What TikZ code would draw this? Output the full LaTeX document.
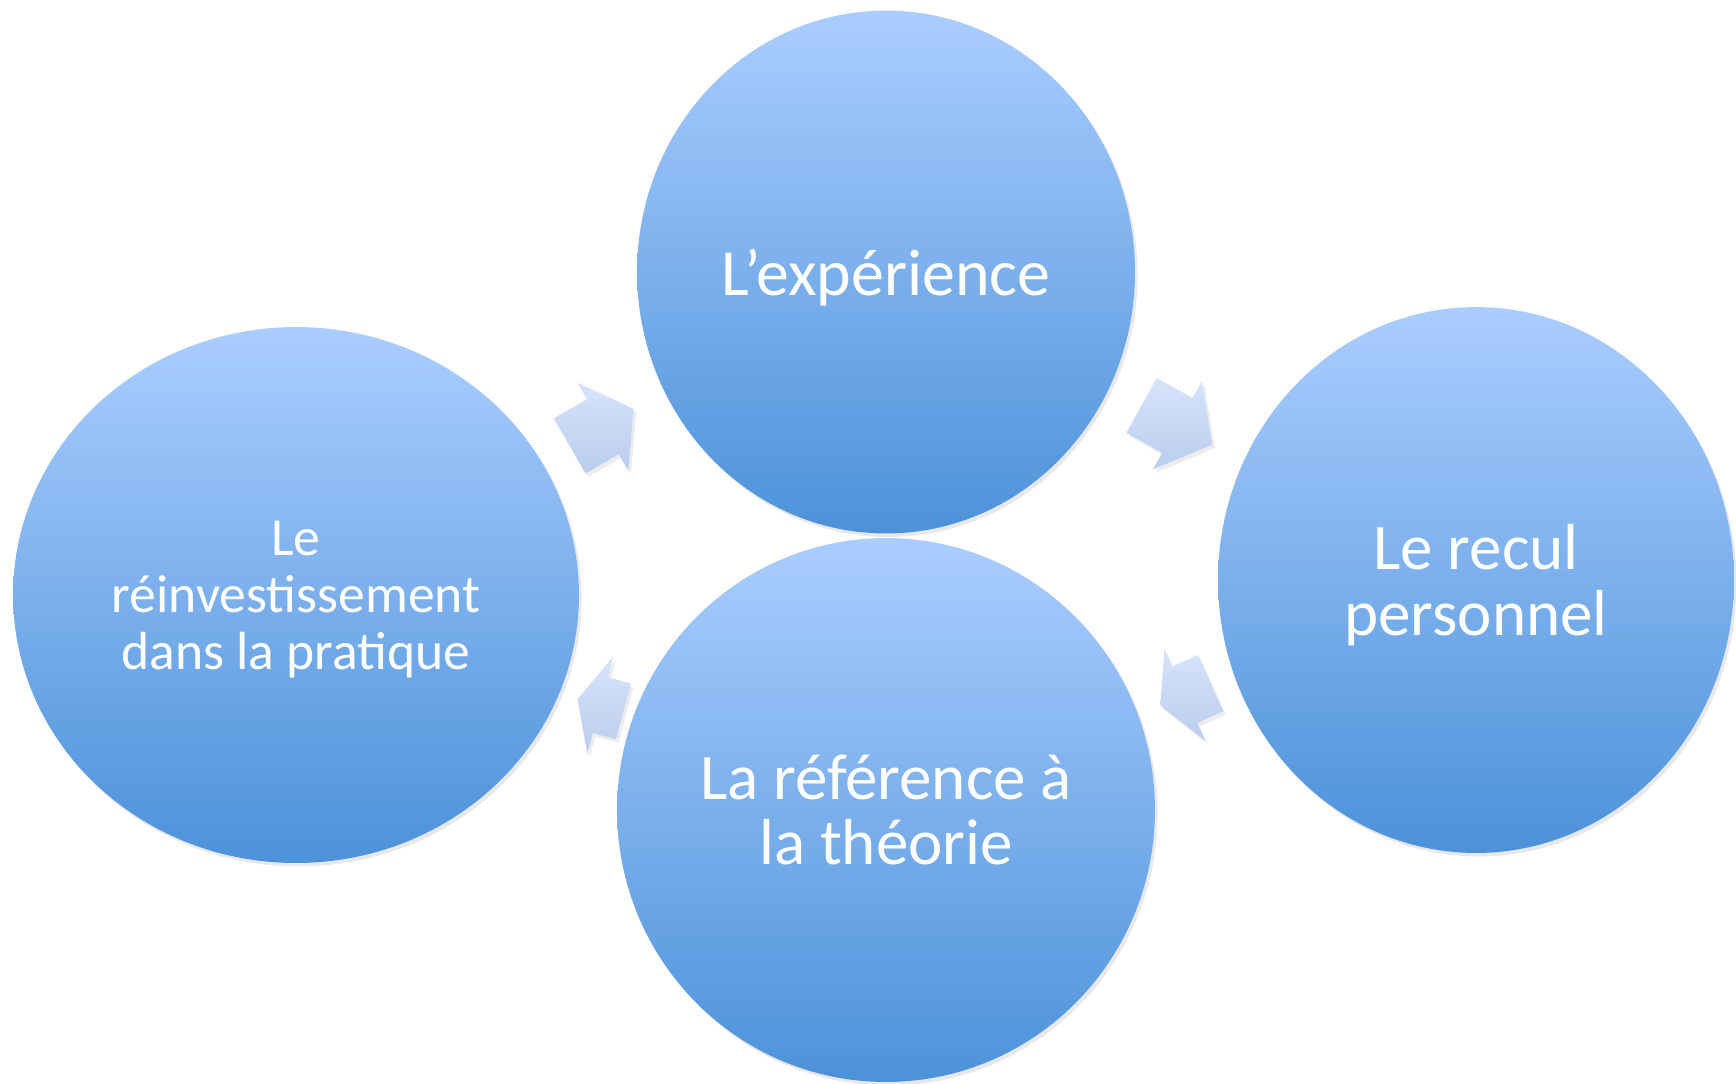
\documentclass[tikz,border=0pt]{standalone}
\usepackage{fontspec}
\setmainfont{Carlito}
\usetikzlibrary{shapes.geometric,shapes.arrows,shadows}

\definecolor{circtop}{RGB}{171,205,255}
\definecolor{circbot}{RGB}{76,146,217}
\definecolor{arrtop}{RGB}{214,227,250}
\definecolor{arrbot}{RGB}{186,205,238}

\begin{document}
\begin{tikzpicture}[x=0.02cm,y=-0.02cm]
	\tikzstyle{stage}=[ellipse,inner sep=0pt,top color=circtop,bottom color=circbot,text=white,align=center,text depth=0pt,
		drop shadow={opacity=0.18,shadow xshift=1.5pt,shadow yshift=-2pt}]
	\tikzstyle{cyclearrow}=[single arrow,inner xsep=0pt,top color=arrtop,bottom color=arrbot,
		single arrow head extend=0.38cm,drop shadow={opacity=0.15,shadow xshift=1.5pt,shadow yshift=-2pt}]
	\useasboundingbox (0,0) rectangle (1736,1083);
	\node[stage,minimum width=11.32cm,minimum height=10.72cm,font=\fontsize{30.5}{32.5}\selectfont](reinv) at (296,595) {Le\\réinvestissement\\dans la pratique};
	\node[stage,minimum width=10.76cm,minimum height=10.88cm,font=\fontsize{37}{37}\selectfont](theo) at (886,810) {La référence à\\la théorie};
	\node[stage,minimum width=9.96cm,minimum height=10.46cm,font=\fontsize{37.5}{37}\selectfont](exp) at (886,272) {L’expérience};
	\node[stage,minimum width=10.32cm,minimum height=10.92cm,font=\fontsize{37}{37.5}\selectfont](recul) at (1476,580) {Le recul\\personnel};
	\node[cyclearrow,rotate=30,minimum height=1.48cm,inner ysep=0.63cm,single arrow tip angle=110](a1) at (592,433) {};
	\node[cyclearrow,rotate=-29,minimum height=1.62cm,inner ysep=0.62cm,single arrow tip angle=103](a2) at (1166,419) {};
	\node[cyclearrow,rotate=204,minimum height=1.1cm,inner ysep=0.61cm,single arrow tip angle=124](a3) at (1193,691) {};
	\node[cyclearrow,rotate=165,minimum height=0.95cm,inner ysep=0.57cm,single arrow head extend=0.43cm,single arrow tip angle=130](a4) at (607,707) {};
\end{tikzpicture}
\end{document}
